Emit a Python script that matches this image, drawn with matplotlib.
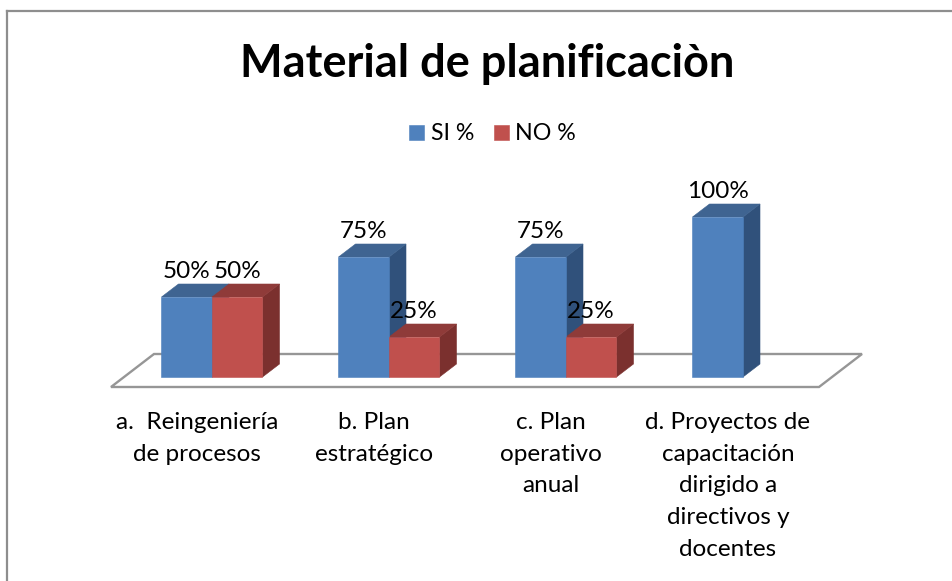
#!/usr/bin/env python3
"""Material de planificacion: fake-3D clustered columns, SI % / NO %."""
import matplotlib
matplotlib.use("Agg")
import matplotlib.pyplot as plt
from matplotlib.lines import Line2D
from matplotlib.patches import Patch, Polygon

plt.rcParams["font.family"] = ["Lato", "DejaVu Sans"]

TITLE = "Material de planificaciòn"
CATEGORIES = [
    "a.  Reingeniería\nde procesos",
    "b. Plan\nestratégico",
    "c. Plan\noperativo\nanual",
    "d. Proyectos de\ncapacitación\ndirigido a\ndirectivos y\ndocentes",
]
SI = [50, 75, 75, 100]
NO = [50, 25, 25, None]

W, H = 953, 581
PX_X = 177.0   # px per category
PX_Y = 1.6     # px per percent
X0_PX, Y0_PX = 212.0, 377.0
BAR_W = 50.5 / PX_X
DX, DY = 17 / PX_X, 13 / PX_Y  # depth of the columns

SERIES = [
    ("SI %", SI, -BAR_W / 2, "#4F81BD", "#3F6491", "#30517B", "#B9CDE5"),
    ("NO %", NO, BAR_W / 2, "#C0504D", "#8F3B39", "#7B302E", "#E6B9B8"),
]


def xd(px):
    return (px - X0_PX) / PX_X


def yd(py):
    return (Y0_PX - py) / PX_Y


fig = plt.figure(figsize=(W / 100, H / 100), dpi=100, facecolor="white")
left, right, top, bottom = 60, 900, 170, 387
ax = fig.add_axes([left / W, 1 - bottom / H, (right - left) / W, (bottom - top) / H])
ax.set_xlim(xd(left), xd(right))
ax.set_ylim(yd(bottom), yd(top))
ax.patch.set_visible(False)
for s in ax.spines.values():
    s.set_visible(False)
ax.set_yticks([])

# chart border, cut off by the crop on the right and bottom
for xs, ys in (((7, 7), (11, H)), ((7, W), (11, 11))):
    fig.add_artist(Line2D([x / W for x in xs], [1 - y / H for y in ys],
                          color="#8E8E8E", lw=1.6))

# floor
floor = [(xd(111), yd(387)), (xd(819), yd(387)), (xd(862), yd(354)), (xd(154), yd(354))]
ax.add_patch(Polygon(floor, closed=True, fc="white", ec="#969696", lw=1.7,
                     clip_on=False, zorder=1))

for name, vals, off, col, topc, sidec, edge in SERIES:
    for i, v in enumerate(vals):
        if v is None:
            continue
        x0, x1 = i + off - BAR_W / 2, i + off + BAR_W / 2
        ax.add_patch(Polygon([(x1, 0), (x1 + DX, DY), (x1 + DX, v + DY), (x1, v)],
                             fc=sidec, ec=sidec, lw=0.4, zorder=2))
        ax.add_patch(Polygon([(x0, v), (x0 + DX, v + DY), (x1 + DX, v + DY), (x1, v)],
                             fc=topc, ec=topc, lw=0.4, zorder=2))
        ax.bar(i + off, v, BAR_W, color=col, edgecolor=col, linewidth=0.4, zorder=3)
        ax.annotate(f"{v}%", (i + off, v), xytext=(0, 25.5 * 0.72), textcoords="offset points",
                    ha="center", va="center", fontsize=17.5, color="black", zorder=5,
                    annotation_clip=False)

# category labels sit a bit left of the columns
ax.set_xticks([i - 15 / PX_X for i in range(len(CATEGORIES))])
ax.set_xticklabels(CATEGORIES, fontsize=17.5, color="black", linespacing=1.63)
ax.tick_params(axis="x", length=0, pad=18)

fig.text(487.5 / W, 1 - 64 / H, TITLE, ha="center", va="center",
         fontsize=32.5, fontweight="bold", color="black")

handles = [Patch(fc=c[3], ec=c[3], lw=0.4, label=c[0]) for c in SERIES]
fig.legend(handles=handles, loc="center", bbox_to_anchor=(492.5 / W, 1 - 134 / H), ncol=2,
           frameon=False, fontsize=16.7, handlelength=0.65, handleheight=0.65,
           handletextpad=0.28, columnspacing=0.85, borderpad=0)

fig.savefig("out.png", dpi=100)
